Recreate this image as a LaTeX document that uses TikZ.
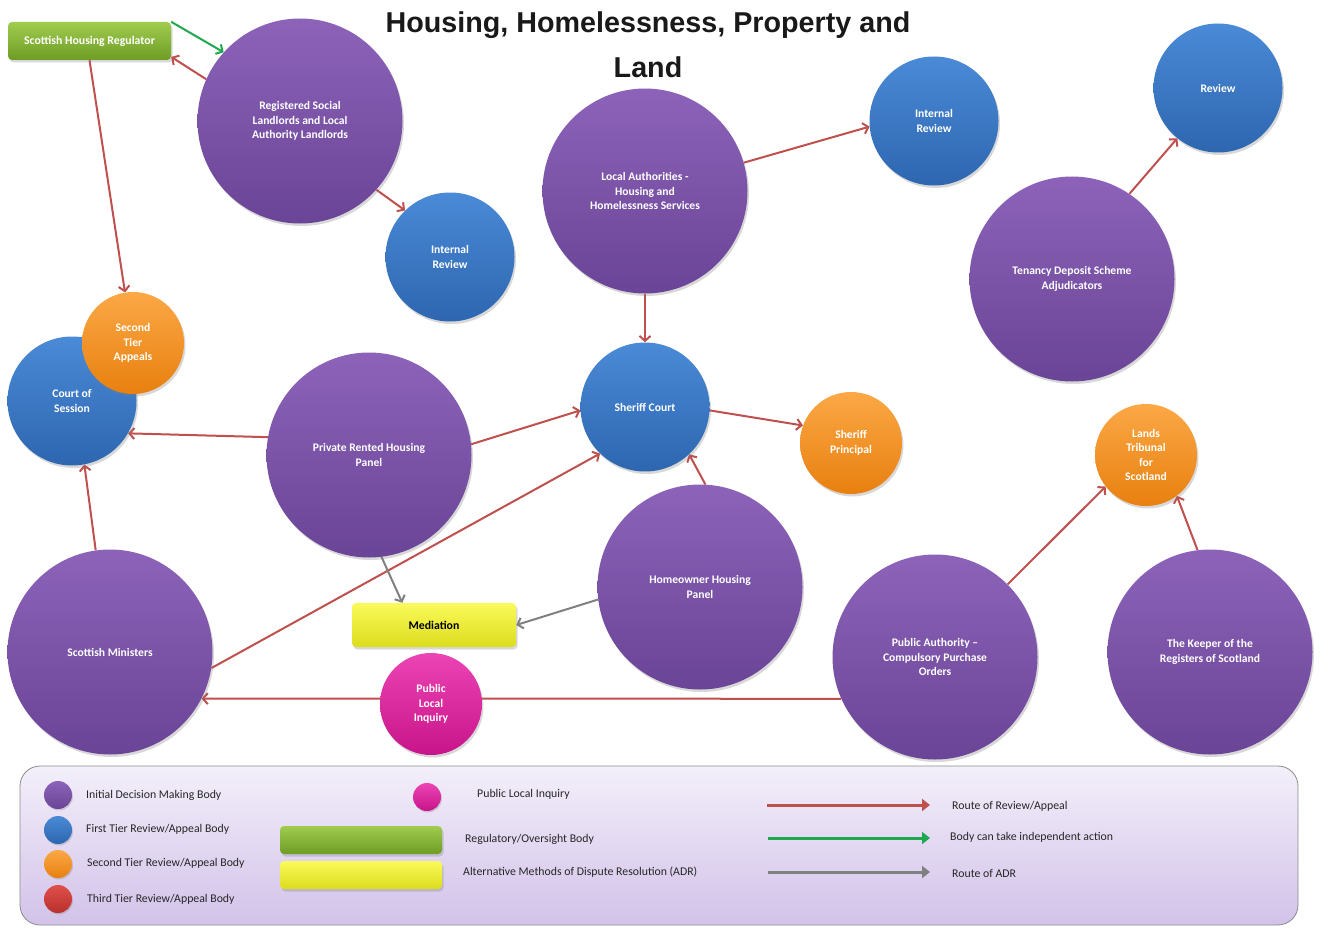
\documentclass[tikz,border=0pt]{standalone}
\usepackage{fontspec}
\setmainfont{Carlito}
\newfontfamily\titlefont{Liberation Sans}
\usetikzlibrary{arrows.meta,shadows,backgrounds}
\definecolor{purpT}{HTML}{8C63B9}
\definecolor{purpB}{HTML}{6A4496}
\definecolor{blueT}{HTML}{4A8AD6}
\definecolor{blueB}{HTML}{2E66B0}
\definecolor{oraT}{HTML}{FBA846}
\definecolor{oraB}{HTML}{E8800F}
\definecolor{pinkT}{HTML}{EC44B4}
\definecolor{pinkB}{HTML}{C8148A}
\definecolor{redT}{HTML}{E0504A}
\definecolor{redB}{HTML}{B8302C}
\definecolor{grnT}{HTML}{A0CC4E}
\definecolor{grnB}{HTML}{6E9C25}
\definecolor{yelT}{HTML}{FAFA5A}
\definecolor{yelB}{HTML}{DCDC1E}
\definecolor{arrRed}{HTML}{C0504D}
\definecolor{arrGreen}{HTML}{1FA84F}
\definecolor{arrGray}{HTML}{808080}
\definecolor{legT}{HTML}{F3EFFA}
\definecolor{legB}{HTML}{D2C2E9}
\definecolor{legText}{HTML}{262626}
\tikzset{
  bubble/.style={circle, inner sep=0pt, align=center, text=white,
    font=\bfseries\fontsize{11.6}{14.5}\selectfont,
    drop shadow={opacity=0.3,shadow xshift=1.5pt,shadow yshift=-2.5pt}},
  purp/.style={bubble, top color=purpT, bottom color=purpB, minimum size=205pt},
  bluebig/.style={bubble, top color=blueT, bottom color=blueB, minimum size=129pt},
  orasmall/.style={bubble, top color=oraT, bottom color=oraB, minimum size=102pt},
  pinksmall/.style={bubble, top color=pinkT, bottom color=pinkB, minimum size=102pt},
  legdot/.style={circle, inner sep=0pt, minimum size=28pt,
    drop shadow={opacity=0.3,shadow xshift=1pt,shadow yshift=-1.5pt}},
  regbox/.style={rectangle, rounded corners=4pt, top color=grnT, bottom color=grnB,
    text=white, font=\bfseries\fontsize{11.8}{14}\selectfont,
    drop shadow={opacity=0.3,shadow xshift=1.5pt,shadow yshift=-2.5pt}},
  adrbox/.style={rectangle, rounded corners=4pt, top color=yelT, bottom color=yelB,
    text=black, font=\bfseries\fontsize{11.8}{14}\selectfont,
    drop shadow={opacity=0.3,shadow xshift=1.5pt,shadow yshift=-2.5pt}},
  legtext/.style={anchor=west, text=legText, font=\fontsize{11.8}{14}\selectfont, inner sep=0pt},
  route/.style={draw=arrRed, line width=2pt, -{Straight Barb[length=5pt,width=11pt]}},
  indep/.style={draw=arrGreen, line width=2pt, -{Straight Barb[length=5pt,width=11pt]}},
  adr/.style={draw=arrGray, line width=2pt, -{Straight Barb[length=5pt,width=11pt]}},
  legarrow/.style={line width=3pt, -{Triangle[length=8pt,width=12pt]}},
}
\begin{document}
\begin{tikzpicture}[x=1pt,y=-1pt]
\useasboundingbox (0,0) rectangle (1321,928);
\begin{pgfonlayer}{background}
\fill[white] (0,0) rectangle (1321,928);
\end{pgfonlayer}

% title
\node[font=\titlefont\bfseries\fontsize{28.7}{45}\selectfont, align=center, text=black!90] (title) at (648,44.5) {Housing, Homelessness, Property and\\Land};

% boxes
\node[regbox, minimum width=163pt, minimum height=38pt] (SHR) at (89.5,41) {Scottish Housing Regulator};
\node[adrbox, minimum width=164pt, minimum height=44pt] (MED) at (434,625) {Mediation};

% bubbles
\node[purp] (RSL) at (300,121) {Registered Social\\Landlords and Local\\Authority Landlords};
\node[bluebig] (IRL) at (450,257) {Internal\\Review};
\node[purp] (LA) at (645,191) {Local Authorities -\\Housing and\\Homelessness Services};
\node[bluebig] (IRR) at (934,121) {Internal\\Review};
\node[bluebig] (REV) at (1218,88) {Review};
\node[purp] (TDS) at (1072,279) {Tenancy Deposit Scheme\\Adjudicators};
\node[bluebig] (COS) at (72,401) {Court of\\Session};
\node[orasmall] (STA) at (133,343) {Second\\Tier\\Appeals};
\node[purp] (PRHP) at (369,455) {Private Rented Housing\\Panel};
\node[bluebig] (SC) at (645,407) {Sheriff Court};
\node[orasmall] (SP) at (851,443) {Sheriff\\Principal};
\node[orasmall] (LT) at (1146,455) {Lands\\Tribunal\\for\\Scotland};
\node[purp] (HHP) at (700,587) {Homeowner Housing\\Panel};
\node[purp] (SM) at (110,652) {Scottish Ministers};
\node[pinksmall] (PLI) at (431,704) {Public\\Local\\Inquiry};
\node[purp] (PA) at (935,657) {Public Authority --\\Compulsory Purchase\\Orders};
\node[purp] (KEEP) at (1210,652) {The Keeper of the\\Registers of Scotland};

% connectors (behind the bubbles)
\begin{pgfonlayer}{background}
\draw[indep] (SHR.north east) -- (RSL.138);
\draw[route] (RSL.156) -- (SHR.-11);
\draw[route] (SHR.south) -- (STA.99);
\draw[route] (RSL.-42) -- (IRL.134);
\draw[route] (LA.16) -- (IRR.185);
\draw[route] (LA.south) -- (SC.north);
\draw[route] (TDS.56) -- (REV.231);
\draw[route] (PRHP.170) -- (COS.-30);
\draw[route] (PRHP.6) -- (SC.183);
\draw[route] (SM.-9) -- (SC.226);
\draw[route] (HHP.87) -- (SC.-47);
\draw[route] (SC.-3) -- (SP.160);
\draw[adr] (PRHP.-83) -- (MED.145);
\draw[adr] (HHP.187) -- (MED.east);
\draw[route] (SM.98) -- (COS.-79);
\draw[route] (PA.204.3) -- (SM.-27.4);
\draw[route] (PA.45) -- (LT.218);
\draw[route] (KEEP.97) -- (LT.-53);
\end{pgfonlayer}

% legend
\node[draw=black!45, line width=0.8pt, rounded corners=20pt, top color=legT, bottom color=legB,
  minimum width=1278pt, minimum height=159pt, inner sep=0pt] (LEG) at (659,845.5) {};
\node[legdot, top color=purpT, bottom color=purpB] (LD1) at (58,795) {};
\node[legdot, top color=blueT, bottom color=blueB] (LD2) at (58,830) {};
\node[legdot, top color=oraT, bottom color=oraB] (LD3) at (58,864) {};
\node[legdot, top color=redT, bottom color=redB] (LD4) at (58,899) {};
\node[legtext] (LT1) at (86,795) {Initial Decision Making Body};
\node[legtext] (LT2) at (86,829) {First Tier Review/Appeal Body};
\node[legtext] (LT3) at (87,863) {Second Tier Review/Appeal Body};
\node[legtext] (LT4) at (87,899) {Third Tier Review/Appeal Body};
\node[legdot, top color=pinkT, bottom color=pinkB] (LD5) at (427,797) {};
\node[legtext] (LT5) at (477,794) {Public Local Inquiry};
\node[regbox, minimum width=162pt, minimum height=28pt] (LG) at (361,840) {};
\node[adrbox, minimum width=162pt, minimum height=28pt] (LY) at (361,875) {};
\node[legtext] (LT6) at (465,839) {Regulatory/Oversight Body};
\node[legtext] (LT7) at (463,872) {Alternative Methods of Dispute Resolution (ADR)};
\coordinate (A1s) at (767,805); \coordinate (A1e) at (930,805);
\coordinate (A2s) at (768,838); \coordinate (A2e) at (930,838);
\coordinate (A3s) at (768,872); \coordinate (A3e) at (930,872);
\draw[legarrow, draw=arrRed, fill=arrRed] (A1s) -- (A1e);
\draw[legarrow, draw=arrGreen, fill=arrGreen] (A2s) -- (A2e);
\draw[legarrow, draw=arrGray, fill=arrGray] (A3s) -- (A3e);
\node[legtext] (LT8) at (952,806) {Route of Review/Appeal};
\node[legtext] (LT9) at (950,837) {Body can take independent action};
\node[legtext] (LT10) at (952,873) {Route of ADR};
\end{tikzpicture}
\end{document}
